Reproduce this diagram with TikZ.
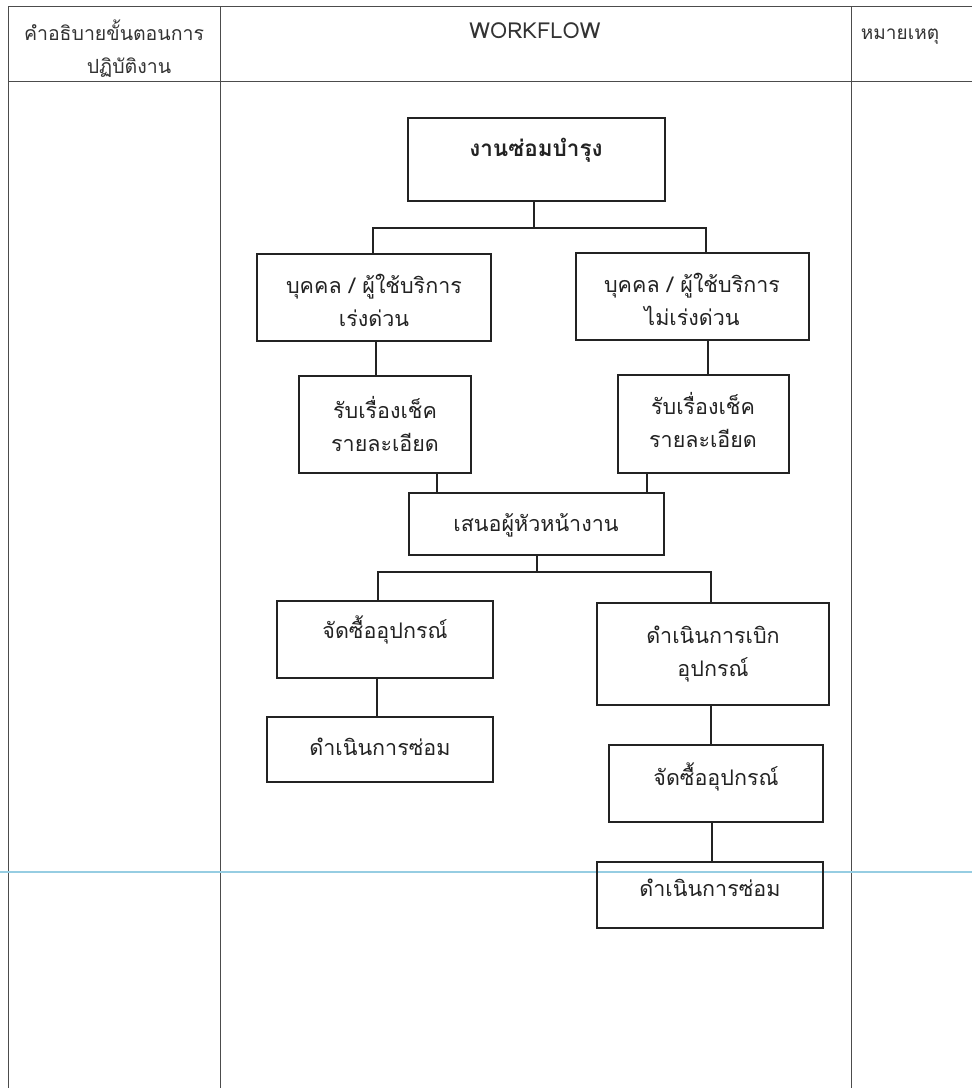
\documentclass[tikz,border=0pt]{standalone}
\usepackage{fontspec}
\setmainfont[Script=Thai]{Loma}
\definecolor{scanblue}{RGB}{150,205,226}
\definecolor{ink}{RGB}{35,35,35}
\newcommand\wfbox[5]{\node[box, minimum width={#4-#2}, minimum height={#5-#3}] (#1) at ({(#2+#4)/2},{(#3+#5)/2}) {};}
\begin{document}
\begin{tikzpicture}[x=1pt,y=-1pt,
  tbl/.style={draw=black!70, line width=0.9pt},
  box/.style={draw=ink, line width=1.3pt, rectangle, inner sep=0pt, outer sep=0pt},
  lbl/.style={font=\fontsize{21.5}{33}\selectfont, align=center, inner sep=0pt, text=ink},
  hdr/.style={font=\fontsize{19.5}{33}\selectfont, align=center, inner sep=0pt, text=black!80},
  conn/.style={draw=ink, line width=1.1pt}]
\useasboundingbox (0,0) rectangle (972,1088);
\fill[white] (0,0) rectangle (972,1088);
% table
\draw[tbl] (8,1088) -- (8,6) -- (972,6);
\draw[tbl] (8,81) -- (972,81);
\draw[tbl] (220,6) -- (220,1088);
\draw[tbl] (851,6) -- (851,1088);
\node[hdr] (h1) at (114,49) {คำอธิบายขั้นตอนการ\\\hspace*{30pt}ปฏิบัติงาน};
\node[hdr, font=\fontsize{22}{33}\selectfont] (h2) at (535,31) {WORKFLOW};
\node[hdr, font=\fontsize{19}{33}\selectfont] (h3) at (900,37) {หมายเหตุ};
% scanner line
\draw[scanblue, line width=1.4pt] (0,872) -- (972,872);
% boxes
\wfbox{A}{408}{118}{665}{201}
\wfbox{B}{257}{254}{491}{341}
\wfbox{C}{576}{253}{809}{340}
\wfbox{D}{299}{376}{471}{473}
\wfbox{E}{618}{375}{789}{473}
\wfbox{F}{409}{493}{664}{555}
\wfbox{G}{277}{601}{493}{678}
\wfbox{H}{267}{717}{493}{782}
\wfbox{I}{597}{603}{829}{705}
\wfbox{J}{609}{745}{823}{822}
\wfbox{K}{597}{862}{823}{928}
% labels
\node[lbl, font=\fontsize{22.5}{33}\selectfont\bfseries] (At) at (536,150) {งานซ่อมบำรุง};
\node[lbl] (Bt) at (374,300) {บุคคล / ผู้ใช้บริการ\\เร่งด่วน};
\node[lbl] (Ct) at (692,299) {บุคคล / ผู้ใช้บริการ\\ไม่เร่งด่วน};
\node[lbl] (Dt) at (385,424) {รับเรื่องเช็ค\\รายละเอียด};
\node[lbl] (Et) at (703,420) {รับเรื่องเช็ค\\รายละเอียด};
\node[lbl] (Ft) at (536,525) {เสนอผู้หัวหน้างาน};
\node[lbl] (Gt) at (385,630) {จัดซื้ออุปกรณ์};
\node[lbl] (Ht) at (380,747) {ดำเนินการซ่อม};
\node[lbl] (It) at (713,654) {ดำเนินการเบิก\\อุปกรณ์};
\node[lbl] (Jt) at (716,777) {จัดซื้ออุปกรณ์};
\node[lbl] (Kt) at (710,888) {ดำเนินการซ่อม};
% junction coordinates
\coordinate (j1) at (534,228);
\coordinate (bL) at (373,228);
\coordinate (bR) at (706,228);
\coordinate (xBD) at (376,0);
\coordinate (xCE) at (708,0);
\coordinate (xDF) at (437,0);
\coordinate (xEF) at (647,0);
\coordinate (j2) at (537,572);
\coordinate (cL) at (378,572);
\coordinate (cR) at (711,572);
\coordinate (xGH) at (377,0);
\coordinate (xIJ) at (711,0);
\coordinate (xJK) at (712,0);
% connectors
\draw[conn] (j1 |- A.south) -- (j1);
\draw[conn] (bL |- B.north) -- (bL) -- (bR) -- (bR |- C.north);
\draw[conn] (xBD |- B.south) -- (xBD |- D.north);
\draw[conn] (xCE |- C.south) -- (xCE |- E.north);
\draw[conn] (xDF |- D.south) -- (xDF |- F.north);
\draw[conn] (xEF |- E.south) -- (xEF |- F.north);
\draw[conn] (j2 |- F.south) -- (j2);
\draw[conn] (cL |- G.north) -- (cL) -- (cR) -- (cR |- I.north);
\draw[conn] (xGH |- G.south) -- (xGH |- H.north);
\draw[conn] (xIJ |- I.south) -- (xIJ |- J.north);
\draw[conn] (xJK |- J.south) -- (xJK |- K.north);
\end{tikzpicture}
\end{document}
